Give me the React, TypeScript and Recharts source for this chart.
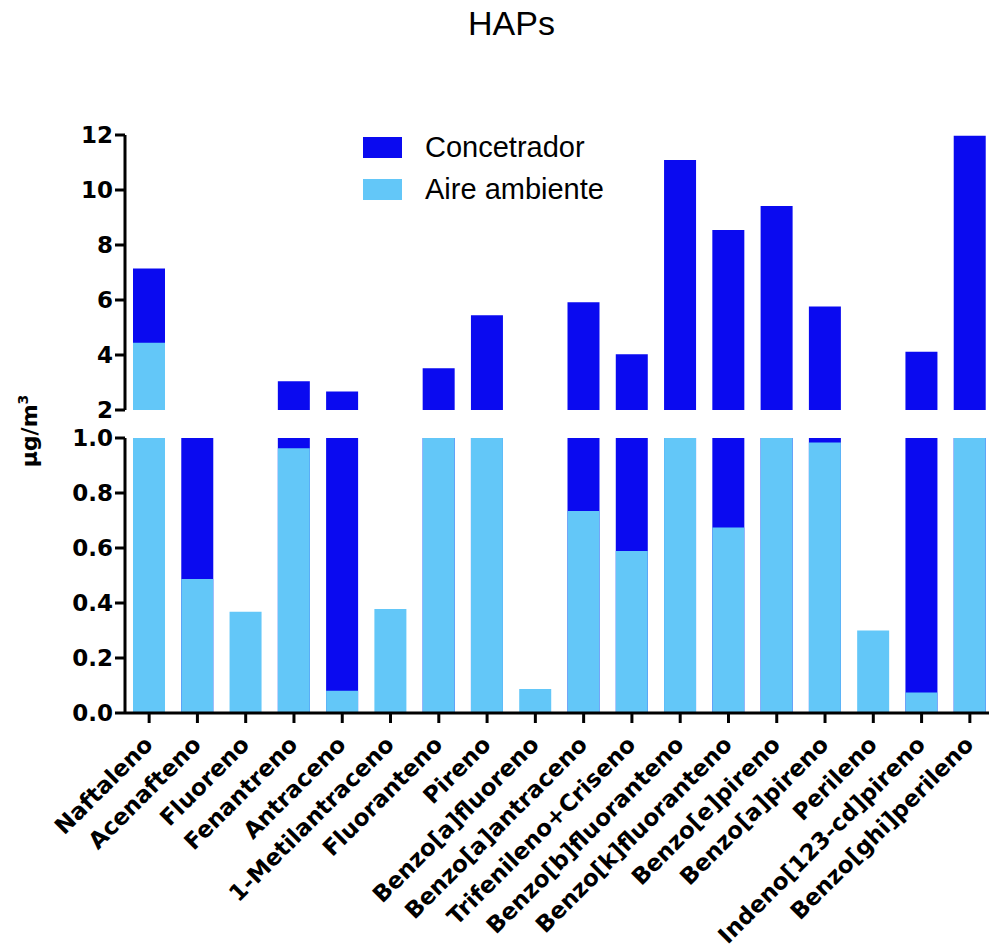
import React from "react";
import { Bar, BarChart, Legend, XAxis, YAxis } from "recharts";

const categories = [
  "Naftaleno",
  "Acenafteno",
  "Fluoreno",
  "Fenantreno",
  "Antraceno",
  "1-Metilantraceno",
  "Fluoranteno",
  "Pireno",
  "Benzo[a]fluoreno",
  "Benzo[a]antraceno",
  "Trifenileno+Criseno",
  "Benzo[b]fluoranteno",
  "Benzo[k]fluoranteno",
  "Benzo[e]pireno",
  "Benzo[a]pireno",
  "Perileno",
  "Indeno[123-cd]pireno",
  "Benzo[ghi]perileno",
];

const seriesNames = ["Concetrador", "Aire ambiente"];

// µg/m3 (values between 1 and 2 are hidden by the axis break)
const concetrador = [7.15, 1.5, 0, 3.05, 2.67, 0, 3.52, 5.45, 0, 5.92, 4.03, 11.09, 8.55, 9.42, 5.76, 0, 4.12, 11.97];
const aireAmbiente = [4.45, 0.487, 0.368, 0.963, 0.081, 0.378, 1.5, 1.5, 0.087, 0.735, 0.589, 1.5, 0.675, 1.5, 0.984, 0.3, 0.075, 1.5];

const upperTicks = [2, 4, 6, 8, 10, 12];
const lowerTicks = [0, 0.2, 0.4, 0.6, 0.8, 1.0];

const DARK = "#0a0af0";
const LIGHT = "#63c7f8";
const SANS = "'Liberation Sans', Arial, sans-serif";
const BOLD = "'DejaVu Sans', sans-serif";

const data = categories.map((name, i) => ({
  name,
  concetrador: concetrador[i],
  aire: aireAmbiente[i],
}));

const axisLine = { stroke: "#000", strokeWidth: 3 };
const tickStyle = { fill: "#000", fontSize: 23, fontWeight: 700, fontFamily: BOLD };

function XTick({ x, y, payload }: any) {
  return (
    <text
      transform={`translate(${x + 5},${y + 21}) rotate(-45)`}
      textAnchor="end"
      fill="#000"
      fontSize={23}
      fontWeight={700}
      fontFamily={BOLD}
    >
      {payload.value}
    </text>
  );
}

function UnitLabel() {
  return (
    <text
      transform="translate(37,431) rotate(-90)"
      textAnchor="middle"
      fill="#000"
      fontSize={22}
      fontWeight={700}
      fontFamily={BOLD}
    >
      µg/m
      <tspan fontSize={14} dy={-9}>
        3
      </tspan>
    </text>
  );
}

function LegendBox({ payload }: any) {
  const items = [...(payload || [])].sort(
    (a: any, b: any) => seriesNames.indexOf(a.value) - seriesNames.indexOf(b.value)
  );
  return (
    <div>
      {items.map((p: any) => (
        <div key={p.value} style={{ display: "flex", alignItems: "center", height: 42.5 }}>
          <span style={{ width: 39, height: 21, background: p.color, marginRight: 23 }} />
          <span style={{ fontSize: 29, fontFamily: SANS, color: "#000" }}>{p.value}</span>
        </div>
      ))}
    </div>
  );
}

export default function App() {
  return (
    <div
      style={{
        position: "absolute",
        left: 0,
        top: 0,
        width: 989,
        height: 951,
        overflow: "hidden",
        background: "#fff",
      }}
    >
      <div
        style={{
          position: "absolute",
          left: 0,
          top: 6,
          width: 1023,
          textAlign: "center",
          fontFamily: SANS,
          fontSize: 34,
          lineHeight: "34px",
        }}
      >
        HAPs
      </div>

      {/* upper part of the broken axis: 2 to 12 */}
      <div style={{ position: "absolute", left: 0, top: 0 }}>
        <BarChart
          width={1000}
          height={440}
          data={data}
          margin={{ top: 135, right: 6, bottom: 30, left: 0 }}
          barSize={32}
          barGap={-32}
        >
          <XAxis dataKey="name" hide />
          <YAxis
            type="number"
            domain={[2, 12]}
            ticks={upperTicks}
            interval={0}
            allowDataOverflow
            width={125}
            axisLine={axisLine}
            tickLine={axisLine}
            tickSize={10}
            tick={tickStyle}
          />
          <Legend
            layout="vertical"
            align="center"
            verticalAlign="middle"
            content={<LegendBox />}
            wrapperStyle={{ left: 363, top: 126, width: "auto" }}
          />
          <Bar dataKey="concetrador" name={seriesNames[0]} fill={DARK} isAnimationActive={false} />
          <Bar dataKey="aire" name={seriesNames[1]} fill={LIGHT} isAnimationActive={false} />
        </BarChart>
      </div>

      {/* lower part of the broken axis: 0 to 1 */}
      <div style={{ position: "absolute", left: 0, top: 0 }}>
        <BarChart
          width={1000}
          height={951}
          data={data}
          margin={{ top: 438, right: 6, bottom: 8, left: 0 }}
          barSize={32}
          barGap={-32}
        >
          <XAxis
            dataKey="name"
            interval={0}
            height={230}
            axisLine={axisLine}
            tickLine={axisLine}
            tickSize={10}
            tick={<XTick />}
          />
          <YAxis
            type="number"
            domain={[0, 1]}
            ticks={lowerTicks}
            interval={0}
            allowDataOverflow
            width={125}
            axisLine={axisLine}
            tickLine={axisLine}
            tickSize={10}
            tick={tickStyle}
            tickFormatter={(v) => Number(v).toFixed(1)}
            label={<UnitLabel />}
          />
          <Bar dataKey="concetrador" name={seriesNames[0]} fill={DARK} isAnimationActive={false} />
          <Bar dataKey="aire" name={seriesNames[1]} fill={LIGHT} isAnimationActive={false} />
        </BarChart>
      </div>
    </div>
  );
}
